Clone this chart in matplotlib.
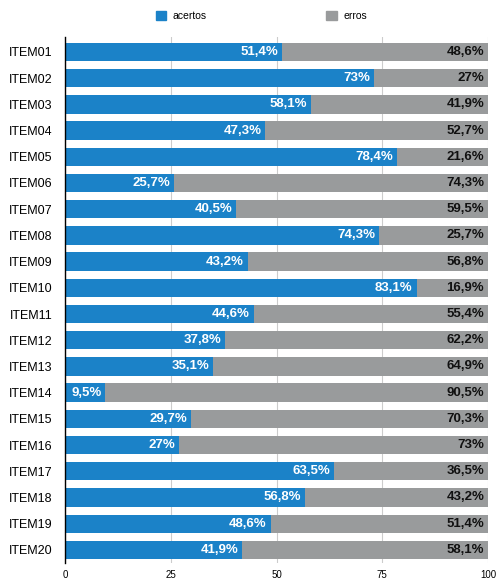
import matplotlib
matplotlib.use("Agg")
import matplotlib.pyplot as plt
from matplotlib.patches import Patch

items = [f"ITEM{i:02d}" for i in range(1, 21)]
acertos = [51.4, 73, 58.1, 47.3, 78.4, 25.7, 40.5, 74.3, 43.2, 83.1,
           44.6, 37.8, 35.1, 9.5, 29.7, 27, 63.5, 56.8, 48.6, 41.9]
erros = [48.6, 27, 41.9, 52.7, 21.6, 74.3, 59.5, 25.7, 56.8, 16.9,
         55.4, 62.2, 64.9, 90.5, 70.3, 73, 36.5, 43.2, 51.4, 58.1]
xticks = [0, 25, 50, 75, 100]

BLUE = "#1b82c8"
GRAY = "#999b9c"
plt.rcParams['font.family'] = ['Liberation Sans', 'DejaVu Sans']

def fmt(v):
    s = f"{v:.1f}".rstrip("0").rstrip(".")
    return s.replace(".", ",") + "%"

fig = plt.figure(figsize=(4.96, 5.80), dpi=100)
ax = fig.add_axes([65/496, 1-563/580, (488-65)/496, (563-37)/580])

y = list(range(len(items)))
ax.barh(y, acertos, height=0.7, color=BLUE, zorder=2)
ax.barh(y, erros, left=acertos, height=0.7, color=GRAY, zorder=2)

for yi, a, e in zip(y, acertos, erros):
    ax.text(a - 0.9, yi, fmt(a), ha="right", va="center", color="white",
            fontsize=9.5, fontweight="bold", zorder=3)
    ax.text(a + e - 0.9, yi, fmt(e), ha="right", va="center", color="#111111",
            fontsize=9.5, fontweight="bold", zorder=3)

ax.set_xlim(0, 100)
ax.set_ylim(19.5, -0.57)
ax.set_yticks(y)
ax.set_yticklabels(items, fontsize=9)
ax.set_xticks(xticks)
ax.set_xticklabels([str(t) for t in xticks], fontsize=7)
ax.tick_params(axis="y", length=0, pad=9)
ax.tick_params(axis="x", length=0, pad=5)
ax.grid(axis="x", color="#cccccc", linewidth=0.8, zorder=0)
for s in ["top", "right", "bottom"]:
    ax.spines[s].set_visible(False)
ax.spines["left"].set_color("black")
ax.spines["left"].set_linewidth(1.0)
ax.spines["left"].set_zorder(4)

handles = [Patch(color=BLUE, label="acertos"), Patch(color=GRAY, label="erros")]
fig.legend(handles=handles, loc="center", bbox_to_anchor=(0.527, 1-16/580), ncol=2,
           frameon=False, fontsize=7.5, handlelength=1.0, handleheight=1.0,
           columnspacing=11.5, handletextpad=0.6)

fig.savefig("out.png", dpi=100)
